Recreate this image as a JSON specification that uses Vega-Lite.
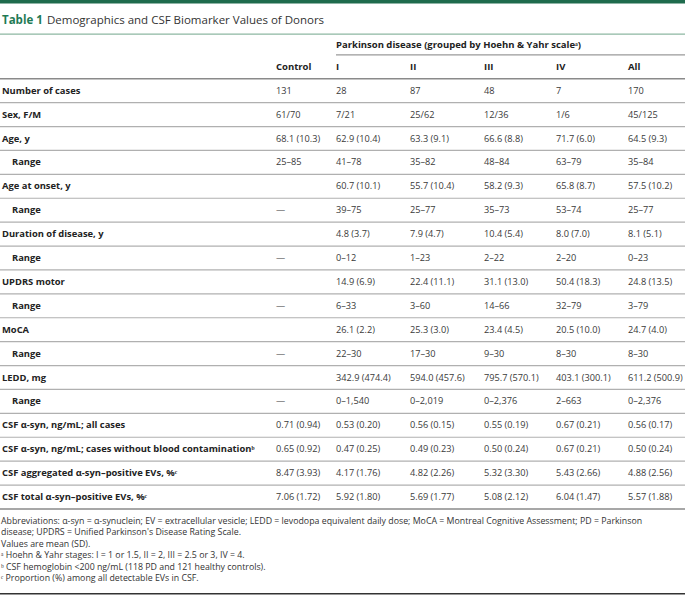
{
  "$schema": "https://vega.github.io/schema/vega-lite/v6.json",
  "width": 685,
  "height": 595,
  "padding": 0,
  "autosize": {"type": "none"},
  "background": "white",
  "config": {"view": {"stroke": null}, "text": {"font": "Open Sans"}},
  "datasets": {
    "columns": [
      {"col": "Control", "idx": 0}, {"col": "I", "idx": 1}, {"col": "II", "idx": 2},
      {"col": "III", "idx": 3}, {"col": "IV", "idx": 4}, {"col": "All", "idx": 5}, {"col": "edge", "idx": 6}
    ],
    "table": [
      {"row": 0, "level": 0, "label": "Number of cases", "Control": "131", "I": "28", "II": "87", "III": "48", "IV": "7", "All": "170"},
      {"row": 1, "level": 0, "label": "Sex, F/M", "Control": "61/70", "I": "7/21", "II": "25/62", "III": "12/36", "IV": "1/6", "All": "45/125"},
      {"row": 2, "level": 0, "label": "Age, y", "Control": "68.1 (10.3)", "I": "62.9 (10.4)", "II": "63.3 (9.1)", "III": "66.6 (8.8)", "IV": "71.7 (6.0)", "All": "64.5 (9.3)"},
      {"row": 3, "level": 1, "label": "Range", "Control": "25–85", "I": "41–78", "II": "35–82", "III": "48–84", "IV": "63–79", "All": "35–84"},
      {"row": 4, "level": 0, "label": "Age at onset, y", "Control": "", "I": "60.7 (10.1)", "II": "55.7 (10.4)", "III": "58.2 (9.3)", "IV": "65.8 (8.7)", "All": "57.5 (10.2)"},
      {"row": 5, "level": 1, "label": "Range", "Control": "—", "I": "39–75", "II": "25–77", "III": "35–73", "IV": "53–74", "All": "25–77"},
      {"row": 6, "level": 0, "label": "Duration of disease, y", "Control": "", "I": "4.8 (3.7)", "II": "7.9 (4.7)", "III": "10.4 (5.4)", "IV": "8.0 (7.0)", "All": "8.1 (5.1)"},
      {"row": 7, "level": 1, "label": "Range", "Control": "—", "I": "0–12", "II": "1–23", "III": "2–22", "IV": "2–20", "All": "0–23"},
      {"row": 8, "level": 0, "label": "UPDRS motor", "Control": "", "I": "14.9 (6.9)", "II": "22.4 (11.1)", "III": "31.1 (13.0)", "IV": "50.4 (18.3)", "All": "24.8 (13.5)"},
      {"row": 9, "level": 1, "label": "Range", "Control": "—", "I": "6–33", "II": "3–60", "III": "14–66", "IV": "32–79", "All": "3–79"},
      {"row": 10, "level": 0, "label": "MoCA", "Control": "", "I": "26.1 (2.2)", "II": "25.3 (3.0)", "III": "23.4 (4.5)", "IV": "20.5 (10.0)", "All": "24.7 (4.0)"},
      {"row": 11, "level": 1, "label": "Range", "Control": "—", "I": "22–30", "II": "17–30", "III": "9–30", "IV": "8–30", "All": "8–30"},
      {"row": 12, "level": 0, "label": "LEDD, mg", "Control": "", "I": "342.9 (474.4)", "II": "594.0 (457.6)", "III": "795.7 (570.1)", "IV": "403.1 (300.1)", "All": "611.2 (500.9)"},
      {"row": 13, "level": 1, "label": "Range", "Control": "—", "I": "0–1,540", "II": "0–2,019", "III": "0–2,376", "IV": "2–663", "All": "0–2,376"},
      {"row": 14, "level": 0, "label": "CSF α-syn, ng/mL; all cases", "Control": "0.71 (0.94)", "I": "0.53 (0.20)", "II": "0.56 (0.15)", "III": "0.55 (0.19)", "IV": "0.67 (0.21)", "All": "0.56 (0.17)"},
      {"row": 15, "level": 0, "label": "CSF α-syn, ng/mL; cases without blood contaminationᵇ", "Control": "0.65 (0.92)", "I": "0.47 (0.25)", "II": "0.49 (0.23)", "III": "0.50 (0.24)", "IV": "0.67 (0.21)", "All": "0.50 (0.24)"},
      {"row": 16, "level": 0, "label": "CSF aggregated α-syn–positive EVs, %ᶜ", "Control": "8.47 (3.93)", "I": "4.17 (1.76)", "II": "4.82 (2.26)", "III": "5.32 (3.30)", "IV": "5.43 (2.66)", "All": "4.88 (2.56)"},
      {"row": 17, "level": 0, "label": "CSF total α-syn–positive EVs, %ᶜ", "Control": "7.06 (1.72)", "I": "5.92 (1.80)", "II": "5.69 (1.77)", "III": "5.08 (2.12)", "IV": "6.04 (1.47)", "All": "5.57 (1.88)"}
    ],
    "header": [
      {"row": -1.92, "col": "I", "text": "Parkinson disease (grouped by Hoehn & Yahr scaleᵃ)"},
      {"row": -1, "col": "Control", "text": "Control"},
      {"row": -1, "col": "I", "text": "I"},
      {"row": -1, "col": "II", "text": "II"},
      {"row": -1, "col": "III", "text": "III"},
      {"row": -1, "col": "IV", "text": "IV"},
      {"row": -1, "col": "All", "text": "All"}
    ],
    "title": [
      {"row": -2.93, "part": "number", "text": "Table 1"},
      {"row": -2.93, "part": "caption", "text": "Demographics and CSF Biomarker Values of Donors"}
    ],
    "separators": [
      {"boundary": 0.5}, {"boundary": 1.5}, {"boundary": 2.5}, {"boundary": 3.5}, {"boundary": 4.5},
      {"boundary": 5.5}, {"boundary": 6.5}, {"boundary": 7.5}, {"boundary": 8.5}, {"boundary": 9.5},
      {"boundary": 10.5}, {"boundary": 11.5}, {"boundary": 12.5}, {"boundary": 13.5}, {"boundary": 14.5},
      {"boundary": 15.5}, {"boundary": 16.5}
    ],
    "notes": [
      {"line": 0, "text": "Abbreviations: α-syn = α-synuclein; EV = extracellular vesicle; LEDD = levodopa equivalent daily dose; MoCA = Montreal Cognitive Assessment; PD = Parkinson"},
      {"line": 1, "text": "disease; UPDRS = Unified Parkinson's Disease Rating Scale."},
      {"line": 2, "text": "Values are mean (SD)."},
      {"line": 3, "text": "ᵃ Hoehn & Yahr stages: I = 1 or 1.5, II = 2, III = 2.5 or 3, IV = 4."},
      {"line": 4, "text": "ᵇ CSF hemoglobin <200 ng/mL (118 PD and 121 healthy controls)."},
      {"line": 5, "text": "ᶜ Proportion (%) among all detectable EVs in CSF."}
    ]
  },
  "layer": [
    {
      "data": {"values": [{"boundary": -3.75}]},
      "mark": {"type": "rule", "color": "#1f6b4d", "strokeWidth": 5},
      "encoding": {"y": {"field": "boundary", "type": "quantitative", "axis": null, "scale": {"domain": [-3.795, 21.1], "reverse": true, "nice": false, "zero": false}}}
    },
    {
      "data": {"values": [{"boundary": -2.37}]},
      "mark": {"type": "rule", "color": "#8db7a2", "strokeWidth": 1.2},
      "encoding": {"y": {"field": "boundary", "type": "quantitative", "axis": null, "scale": {"domain": [-3.795, 21.1], "reverse": true, "nice": false, "zero": false}}}
    },
    {
      "data": {"values": [{"boundary": -1.5, "from": "I", "to": "edge"}]},
      "transform": [
        {"lookup": "from", "from": {"data": {"name": "columns"}, "key": "col", "fields": ["idx"]}, "as": ["i0"]},
        {"lookup": "to", "from": {"data": {"name": "columns"}, "key": "col", "fields": ["idx"]}, "as": ["i1"]}
      ],
      "mark": {"type": "rule", "color": "#9a9a9a", "strokeWidth": 1.2},
      "encoding": {
        "y": {"field": "boundary", "type": "quantitative", "axis": null, "scale": {"domain": [-3.795, 21.1], "reverse": true, "nice": false, "zero": false}},
        "x": {"field": "i0", "type": "quantitative", "axis": null, "scale": {"domain": [0, 1, 2, 3, 4, 5, 6], "range": [276, 336, 410, 484, 556, 628, 685], "nice": false, "zero": false}},
        "x2": {"field": "i1"}
      }
    },
    {
      "data": {"values": [{"boundary": -0.5}, {"boundary": 17.5}]},
      "mark": {"type": "rule", "color": "#8a8a8a", "strokeWidth": 1.6},
      "encoding": {"y": {"field": "boundary", "type": "quantitative", "axis": null, "scale": {"domain": [-3.795, 21.1], "reverse": true, "nice": false, "zero": false}}}
    },
    {
      "data": {"name": "separators"},
      "mark": {"type": "rule", "color": "#b0b0b0", "strokeWidth": 1.2},
      "encoding": {"y": {"field": "boundary", "type": "quantitative", "axis": null, "scale": {"domain": [-3.795, 21.1], "reverse": true, "nice": false, "zero": false}}}
    },
    {
      "data": {"values": [{"boundary": 21.05}]},
      "mark": {"type": "rule", "color": "#333333", "strokeWidth": 1.5},
      "encoding": {"y": {"field": "boundary", "type": "quantitative", "axis": null, "scale": {"domain": [-3.795, 21.1], "reverse": true, "nice": false, "zero": false}}}
    },
    {
      "data": {"name": "title"},
      "transform": [{"filter": "datum.part == 'number'"}],
      "mark": {"type": "text", "align": "left", "baseline": "middle", "fontSize": 11.5, "fontWeight": "bold", "color": "#1f7a55"},
      "encoding": {
        "y": {"field": "row", "type": "quantitative", "axis": null, "scale": {"domain": [-3.795, 21.1], "reverse": true, "nice": false, "zero": false}},
        "x": {"field": "part", "type": "nominal", "axis": null, "scale": {"type": "point", "domain": ["number", "caption"], "range": [2, 47], "padding": 0}},
        "text": {"field": "text"}
      }
    },
    {
      "data": {"name": "title"},
      "transform": [{"filter": "datum.part == 'caption'"}],
      "mark": {"type": "text", "align": "left", "baseline": "middle", "fontSize": 11.5, "color": "#333333"},
      "encoding": {
        "y": {"field": "row", "type": "quantitative", "axis": null, "scale": {"domain": [-3.795, 21.1], "reverse": true, "nice": false, "zero": false}},
        "x": {"field": "part", "type": "nominal", "axis": null, "scale": {"type": "point", "domain": ["number", "caption"], "range": [2, 47], "padding": 0}},
        "text": {"field": "text"}
      }
    },
    {
      "data": {"name": "header"},
      "transform": [{"lookup": "col", "from": {"data": {"name": "columns"}, "key": "col", "fields": ["idx"]}}],
      "mark": {"type": "text", "align": "left", "baseline": "middle", "fontSize": 9.5, "fontWeight": "bold", "color": "#222222"},
      "encoding": {
        "y": {"field": "row", "type": "quantitative", "axis": null, "scale": {"domain": [-3.795, 21.1], "reverse": true, "nice": false, "zero": false}},
        "x": {"field": "idx", "type": "quantitative", "axis": null, "scale": {"domain": [0, 1, 2, 3, 4, 5, 6], "range": [276, 336, 410, 484, 556, 628, 685], "nice": false, "zero": false}},
        "text": {"field": "text"}
      }
    },
    {
      "data": {"name": "table"},
      "mark": {"type": "text", "align": "left", "baseline": "middle", "fontSize": 9.4, "fontWeight": "bold", "color": "#222222"},
      "encoding": {
        "y": {"field": "row", "type": "quantitative", "axis": null, "scale": {"domain": [-3.795, 21.1], "reverse": true, "nice": false, "zero": false}},
        "x": {"field": "level", "type": "quantitative", "axis": null, "scale": {"domain": [0, 1], "range": [2, 12], "nice": false, "zero": false}},
        "text": {"field": "label"}
      }
    },
    {
      "data": {"name": "table"},
      "transform": [
        {"fold": ["Control", "I", "II", "III", "IV", "All"], "as": ["col", "value"]},
        {"filter": "datum.value != ''"},
        {"lookup": "col", "from": {"data": {"name": "columns"}, "key": "col", "fields": ["idx"]}}
      ],
      "mark": {"type": "text", "align": "left", "baseline": "middle", "fontSize": 9.2, "color": "#3a3a3a"},
      "encoding": {
        "y": {"field": "row", "type": "quantitative", "axis": null, "scale": {"domain": [-3.795, 21.1], "reverse": true, "nice": false, "zero": false}},
        "x": {"field": "idx", "type": "quantitative", "axis": null, "scale": {"domain": [0, 1, 2, 3, 4, 5, 6], "range": [276, 336, 410, 484, 556, 628, 685], "nice": false, "zero": false}},
        "text": {"field": "value"}
      }
    },
    {
      "data": {"name": "notes"},
      "mark": {"type": "text", "align": "left", "baseline": "middle", "fontSize": 8.8, "color": "#333333"},
      "encoding": {
        "y": {"field": "line", "type": "quantitative", "axis": null, "scale": {"domain": [-45.3, 6.44], "reverse": true, "nice": false, "zero": false}},
        "x": {"datum": 0, "type": "quantitative", "axis": null, "scale": {"domain": [0, 1], "range": [1, 686], "nice": false, "zero": false}},
        "text": {"field": "text"}
      }
    }
  ],
  "resolve": {"scale": {"x": "independent", "y": "independent"}}
}
